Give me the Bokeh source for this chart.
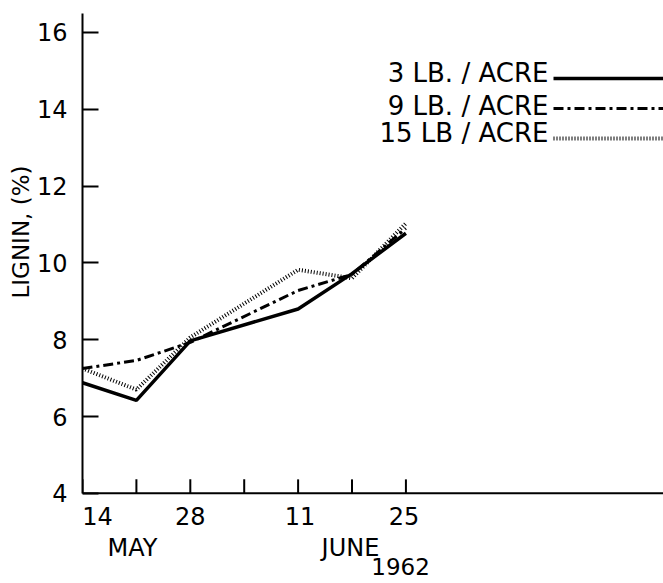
from bokeh.plotting import figure
from bokeh.models import (Range1d, FixedTicker, Label, Legend, LegendItem, Span,
                          Title, ColumnDataSource)
from bokeh.core.properties import value
from bokeh.embed import file_html
from bokeh.resources import INLINE

# Days counted as day-of-May (June 11 = 42, June 25 = 56)
days = [14, 21, 28, 42, 49, 56]
lb3 = [6.88, 6.42, 7.97, 8.80, 9.72, 10.77]
lb9 = [7.25, 7.46, 7.93, 9.28, 9.70, 10.90]
lb15 = [7.25, 6.70, 8.06, 9.82, 9.60, 11.03]

x_ticks = [14, 21, 28, 35, 42, 49, 56]
x_label_days = [14, 28, 42, 56]
x_label_text = ["14", "28", "11", "25"]
month_days = [20.5, 48.8]
month_text = ["MAY", "JUNE"]
year_day = [55.3]
year_text = ["1962"]
y_ticks = [4, 6, 8, 10, 12, 14, 16]
series_names = ["3 LB. / ACRE", "9 LB. / ACRE", "15 LB / ACRE"]

FONT = "DejaVu Sans"
PX_PER_UNIT = 38.42          # vertical scale (pixels per % lignin)
Y_AXIS = 4                   # where the x axis sits

p = figure(width=663, height=583, output_backend="svg", toolbar_location=None,
           x_range=Range1d(14, 89.45), y_range=Range1d(1.654, 16.49),
           x_axis_location=None,
           min_border_left=82, min_border_right=0, min_border_top=13,
           min_border_bottom=0)
p.outline_line_color = None
p.xgrid.visible = False
p.ygrid.visible = False
p.background_fill_color = "white"
p.border_fill_color = "white"

ya = p.yaxis[0]
ya.bounds = (Y_AXIS, 16.49)
ya.ticker = FixedTicker(ticks=y_ticks)
ya.axis_line_width = 2
ya.axis_line_color = "black"
ya.major_tick_line_width = 2
ya.major_tick_line_color = "black"
ya.major_tick_in = 16
ya.major_tick_out = 0
ya.minor_tick_line_color = None
ya.major_label_text_font = FONT
ya.major_label_text_font_size = "24px"
ya.major_label_text_color = "black"
ya.major_label_standoff = 15

p.add_layout(Title(text="LIGNIN, (%)", align="left", offset=285, standoff=0,
                   text_font=FONT, text_font_size="23px",
                   text_font_style="normal", text_color="black"), "left")

# x axis drawn at y = 4 inside the (extended) frame
p.add_layout(Span(location=Y_AXIS, dimension="width", line_color="black",
                  line_width=2))
tick_top = Y_AXIS + 14 / PX_PER_UNIT
p.segment(x0=x_ticks, y0=[Y_AXIS] * len(x_ticks), x1=x_ticks,
          y1=[tick_top] * len(x_ticks), line_color="black", line_width=2)


def below(px):
    return Y_AXIS - px / PX_PER_UNIT


xl_src = ColumnDataSource(dict(x=x_label_days, t=x_label_text,
                               y=[below(22.5)] * len(x_label_days),
                               dx=[15, 0, 2, -2]))
p.text(x="x", y="y", text="t", x_offset="dx", source=xl_src,
       text_font=value(FONT), text_font_size=value("24px"),
       text_align="center", text_baseline="alphabetic", text_color="black")
p.text(x=month_days, y=[below(54.5)] * len(month_days), text=month_text,
       text_font=value(FONT), text_font_size=value("24px"),
       text_align="center", text_baseline="alphabetic", text_color="black")
p.text(x=year_day, y=[below(73.5)], text=year_text,
       text_font=value(FONT), text_font_size=value("23px"),
       text_align="center", text_baseline="alphabetic", text_color="black")

r1 = p.line(days, lb3, line_color="black", line_width=3.5)
r2 = p.line(days, lb9, line_color="black", line_width=3, line_dash="10 4 3 4")
r3 = p.line(days, lb15, line_color="black", line_width=4, line_dash="1 2")

legend = Legend(items=[LegendItem(label="", renderers=[r]) for r in (r1, r2, r3)],
                location=(471, 435), glyph_width=110, glyph_height=20,
                label_width=0, label_standoff=0, label_height=20,
                spacing=10, padding=0, margin=0,
                border_line_color=None, background_fill_alpha=0)
p.add_layout(legend, "center")

leg_y = [14.95, 14.09, 13.39]
for name, yy in zip(series_names, leg_y):
    p.add_layout(Label(x=74.5, y=yy, text=name, text_align="right",
                       text_baseline="alphabetic", text_font=FONT,
                       text_font_size="26px", text_color="black"))

open("out.html", "w").write(file_html(p, INLINE))
